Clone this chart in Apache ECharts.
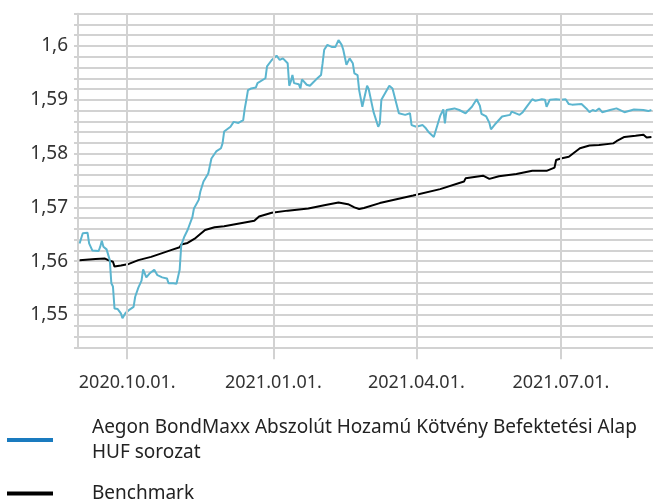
<!DOCTYPE html>
<html>
<head>
<meta charset="utf-8">
<script src="https://cdn.jsdelivr.net/npm/echarts@6/dist/echarts.min.js"></script>
<style>
  html, body { margin: 0; padding: 0; background: #fff; }
  #myChart { width: 653px; height: 500px; }
</style>
</head>
<body>
<div id="myChart"></div>
<script>
// napi árfolyamok
var fundName = 'Aegon BondMaxx Abszolút Hozamú Kötvény Befektetési Alap\nHUF sorozat';
var benchName = 'Benchmark';

var fundDates = [
  '2020-09-01','2020-09-03','2020-09-06','2020-09-07','2020-09-09','2020-09-13','2020-09-14','2020-09-15','2020-09-16','2020-09-18',
  '2020-09-20','2020-09-21','2020-09-22','2020-09-23','2020-09-25','2020-09-27','2020-09-28','2020-09-29','2020-09-30','2020-10-02',
  '2020-10-05','2020-10-06','2020-10-08','2020-10-10','2020-10-11','2020-10-12','2020-10-13','2020-10-15','2020-10-18','2020-10-20',
  '2020-10-23','2020-10-26','2020-10-27','2020-10-30','2020-11-01','2020-11-02','2020-11-03','2020-11-04','2020-11-06','2020-11-08',
  '2020-11-09','2020-11-11','2020-11-12','2020-11-15','2020-11-16','2020-11-18','2020-11-21','2020-11-23','2020-11-26','2020-11-29',
  '2020-11-30','2020-12-01','2020-12-05','2020-12-07','2020-12-10','2020-12-13','2020-12-14','2020-12-15','2020-12-16','2020-12-18',
  '2020-12-21','2020-12-22','2020-12-27','2020-12-28','2020-12-31','2021-01-03','2021-01-05','2021-01-07','2021-01-10','2021-01-11',
  '2021-01-12','2021-01-13','2021-01-14','2021-01-17','2021-01-18','2021-01-19','2021-01-22','2021-01-24','2021-01-26','2021-01-28',
  '2021-01-31','2021-02-01','2021-02-02','2021-02-04','2021-02-07','2021-02-09','2021-02-11','2021-02-13','2021-02-14','2021-02-16',
  '2021-02-18','2021-02-20','2021-02-21','2021-02-23','2021-02-24','2021-02-26','2021-03-01','2021-03-02','2021-03-05','2021-03-08',
  '2021-03-09','2021-03-10','2021-03-14','2021-03-15','2021-03-17','2021-03-21','2021-03-25','2021-03-28','2021-03-29','2021-04-01',
  '2021-04-05','2021-04-07','2021-04-09','2021-04-12','2021-04-16','2021-04-18','2021-04-19','2021-04-20','2021-04-25','2021-04-28',
  '2021-05-02','2021-05-06','2021-05-09','2021-05-11','2021-05-12','2021-05-15','2021-05-17','2021-05-18','2021-05-21','2021-05-25',
  '2021-05-30','2021-05-31','2021-06-05','2021-06-07','2021-06-10','2021-06-13','2021-06-15','2021-06-19','2021-06-21','2021-06-22',
  '2021-06-24','2021-06-28','2021-07-01','2021-07-04','2021-07-06','2021-07-08','2021-07-14','2021-07-17','2021-07-19','2021-07-21',
  '2021-07-23','2021-07-25','2021-07-27','2021-08-01','2021-08-05','2021-08-10','2021-08-16','2021-08-22','2021-08-25','2021-08-27'
];
var fundValues = [
  1.5633,1.5652,1.5653,1.5633,1.5620,1.5619,1.5627,1.5638,1.5627,1.5622,
  1.5602,1.5559,1.5553,1.5512,1.5511,1.5503,1.5494,1.5497,1.5504,1.5509,
  1.5515,1.5534,1.5551,1.5564,1.5585,1.5585,1.5570,1.5577,1.5584,1.5574,
  1.5570,1.5568,1.5559,1.5559,1.5558,1.5571,1.5584,1.5630,1.5646,1.5658,
  1.5655,1.5682,1.5698,1.5714,1.5729,1.5748,1.5763,1.5791,1.5804,1.5810,
  1.5819,1.5841,1.5850,1.5859,1.5857,1.5862,1.5884,1.5900,1.5918,1.5921,
  1.5923,1.5931,1.5940,1.5962,1.5974,1.5982,1.5974,1.5977,1.5968,1.5926,
  1.5934,1.5946,1.5931,1.5929,1.5921,1.5938,1.5928,1.5926,1.5932,1.5938,
  1.5946,1.5968,1.5993,1.6002,1.5998,1.5998,1.6011,1.6002,1.5993,1.5965,
  1.5977,1.5968,1.5949,1.5946,1.5918,1.5887,1.5926,1.5920,1.5878,1.5850,
  1.5856,1.5900,1.5921,1.5926,1.5921,1.5875,1.5872,1.5875,1.5853,1.5850,
  1.5853,1.5847,1.5839,1.5831,1.5870,1.5882,1.5856,1.5881,1.5884,1.5881,
  1.5875,1.5887,1.5901,1.5889,1.5874,1.5869,1.5857,1.5845,1.5856,1.5869,
  1.5872,1.5878,1.5872,1.5877,1.5889,1.5901,1.5898,1.5901,1.5900,1.5887,
  1.5900,1.5901,1.5900,1.5901,1.5892,1.5891,1.5892,1.5884,1.5877,1.5881,
  1.5879,1.5884,1.5877,1.5881,1.5884,1.5877,1.5882,1.5881,1.5879,1.5881
];

var benchDates = [
  '2020-09-01','2020-09-11','2020-09-17','2020-09-19','2020-09-22','2020-09-23','2020-09-27','2020-10-02','2020-10-08','2020-10-16',
  '2020-10-23','2020-10-29','2020-11-03','2020-11-04','2020-11-08','2020-11-13','2020-11-19','2020-11-25','2020-12-01','2020-12-14',
  '2020-12-20','2020-12-23','2020-12-31','2021-01-10','2021-01-23','2021-02-02','2021-02-11','2021-02-17','2021-02-21','2021-02-24',
  '2021-02-27','2021-03-09','2021-03-30','2021-04-16','2021-05-01','2021-05-02','2021-05-13','2021-05-17','2021-05-23','2021-06-03',
  '2021-06-13','2021-06-22','2021-06-27','2021-06-28','2021-07-01','2021-07-06','2021-07-13','2021-07-19','2021-07-25','2021-08-03',
  '2021-08-05','2021-08-10','2021-08-17','2021-08-22','2021-08-24','2021-08-27'
];
var benchValues = [
  1.5602,1.5604,1.5605,1.5602,1.5599,1.5590,1.5592,1.5595,1.5602,1.5608,
  1.5615,1.5621,1.5626,1.5631,1.5634,1.5643,1.5658,1.5663,1.5665,1.5672,
  1.5675,1.5683,1.5690,1.5694,1.5698,1.5704,1.5709,1.5706,1.5700,1.5697,
  1.5699,1.5708,1.5722,1.5734,1.5748,1.5754,1.5759,1.5753,1.5758,1.5762,
  1.5768,1.5768,1.5774,1.5788,1.5791,1.5794,1.5810,1.5815,1.5816,1.5819,
  1.5823,1.5831,1.5833,1.5835,1.5830,1.5831
];

// negyedéves feliratok az x tengelyen
var xTicks = ['2020-10-01', '2021-01-01', '2021-04-01', '2021-07-01'];
var xMin = '2020-08-31', xMax = '2021-08-28';

function ts(s) {
  var p = s.split('-');
  return new Date(+p[0], +p[1] - 1, +p[2]).getTime();
}
function pairs(dates, values) {
  return dates.map(function (d, i) { return [ts(d), values[i]]; });
}
function pad(n) { return n < 10 ? '0' + n : '' + n; }

var gridColor = '#d2d2d2';
var font = 'Noto Sans';
var legendText = { fontFamily: font, fontSize: 19, color: '#222', lineHeight: 25, padding: [0, 0, 0, 34] };

var myChart = echarts.init(document.getElementById('myChart'), null, {renderer: 'canvas'});

myChart.setOption({
  animation: false,
  grid: { left: 78, right: 0, top: 13.7, bottom: 152.7, containLabel: false },
  legend: [
    {
      orient: 'vertical', left: 2, top: 410,
      itemWidth: 46, itemHeight: 4, icon: 'rect',
      textStyle: legendText,
      data: [{ name: fundName, itemStyle: { color: '#1a7bbf' } }]
    },
    {
      orient: 'vertical', left: 2, top: 476,
      itemWidth: 46, itemHeight: 4, icon: 'rect',
      textStyle: legendText,
      data: [{ name: benchName, itemStyle: { color: '#000' } }]
    }
  ],
  xAxis: {
    type: 'value',
    min: ts(xMin),
    max: ts(xMax),
    axisLine: { show: true, lineStyle: { color: gridColor, width: 2 } },
    axisTick: {
      show: true, length: 12, customValues: xTicks.map(ts),
      lineStyle: { color: gridColor, width: 2 }
    },
    axisLabel: {
      customValues: xTicks.map(ts),
      fontFamily: font, fontSize: 18, color: '#333', margin: 27,
      formatter: function (v) {
        var d = new Date(v);
        return d.getFullYear() + '.' + pad(d.getMonth() + 1) + '.' + pad(d.getDate()) + '.';
      }
    },
    splitLine: { show: false }
  },
  yAxis: {
    type: 'value',
    min: 1.544,
    max: 1.606,
    interval: 0.002,
    axisLine: { show: true, lineStyle: { color: gridColor, width: 2 } },
    axisTick: { show: true, length: 4, lineStyle: { color: gridColor, width: 2 } },
    axisLabel: {
      fontFamily: font, fontSize: 19, color: '#333', margin: 10,
      formatter: function (v) {
        var k = Math.round(v * 1000);
        if (k % 10 !== 0) return '';
        return String(Math.round(v * 100) / 100).replace('.', ',');
      }
    },
    splitLine: { show: true, lineStyle: { color: gridColor, width: 2 } }
  },
  series: [
    {
      name: fundName,
      type: 'line',
      showSymbol: false,
      data: pairs(fundDates, fundValues),
      lineStyle: { color: '#5bb5cf', width: 2 },
      itemStyle: { color: '#5bb5cf' },
      markLine: {
        silent: true,
        symbol: 'none',
        label: { show: false },
        lineStyle: { color: gridColor, width: 2, type: 'solid' },
        data: xTicks.map(function (d) { return { xAxis: ts(d) }; })
      },
      z: 3
    },
    {
      name: benchName,
      type: 'line',
      showSymbol: false,
      data: pairs(benchDates, benchValues),
      lineStyle: { color: '#000', width: 2 },
      itemStyle: { color: '#000' },
      z: 2
    }
  ]
});
</script>
</body>
</html>
